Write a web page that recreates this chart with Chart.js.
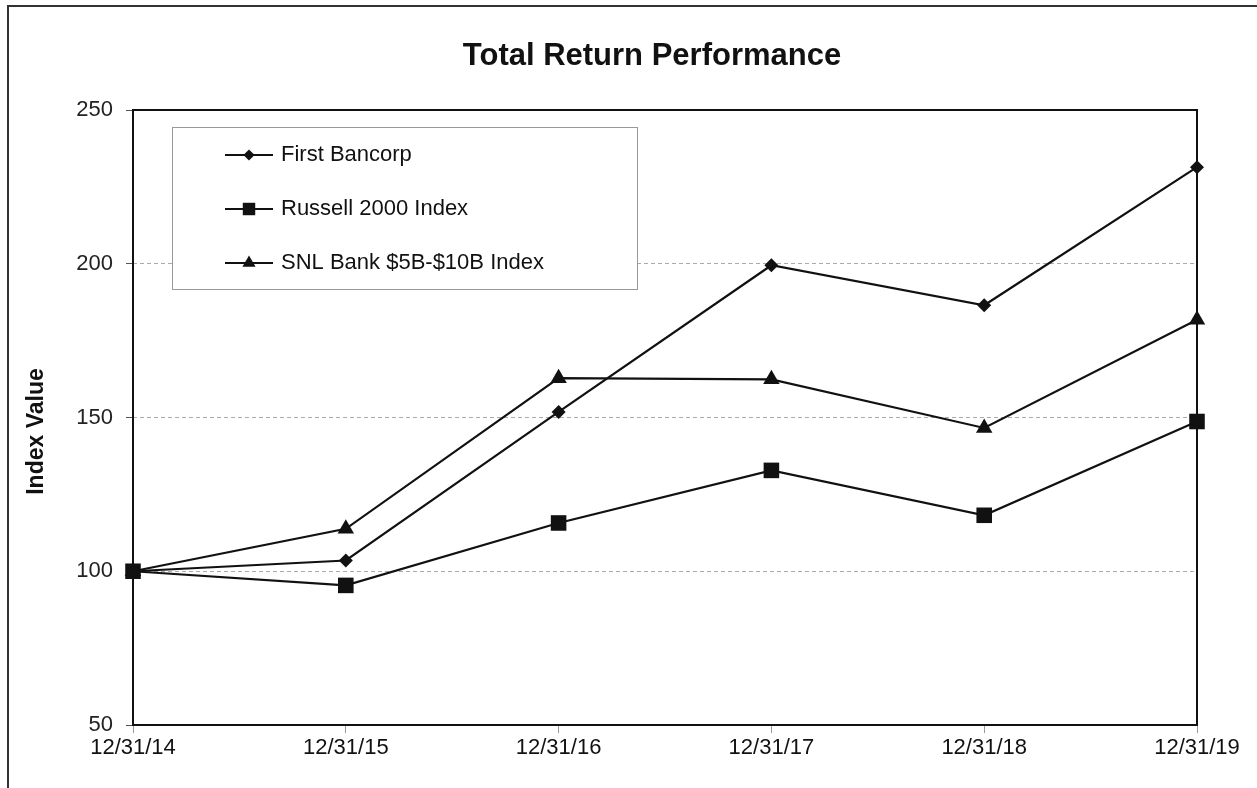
<!DOCTYPE html>
<html lang="en">
<head>
  <meta charset="UTF-8" />
  <title>Total Return Performance</title>
  <script src="https://cdn.jsdelivr.net/npm/chart.js"></script>
  <style>
    body {
      margin: 0;
      background: #ffffff;
    }
    .frame {
      position: absolute;
      left: 7px;
      top: 5px;
      width: 1250px;
      height: 783px;
      border-left: 2px solid #333;
      border-top: 2px solid #333;
      box-sizing: border-box;
    }
    canvas {
      position: absolute;
      left: 0;
      top: 0;
    }
  </style>
</head>
<body>
  <div class="frame"></div>
  <canvas id="perfChart" width="1257" height="788"></canvas>

  <script>
    const dates = ['12/31/14', '12/31/15', '12/31/16', '12/31/17', '12/31/18', '12/31/19'];
    const firstBancorp = [100, 103.5, 151.8, 199.5, 186.5, 231.4];
    const russell2000 = [100, 95.4, 115.7, 132.8, 118.2, 148.7];
    const snlBank = [100, 113.8, 162.8, 162.4, 146.6, 181.8];
    const yTicks = [50, 100, 150, 200, 250];

    const FONT = "'Liberation Sans', Arial, sans-serif";

    // title, plot frame, y title and boxed legend
    const extras = {
      id: 'extras',
      afterDraw(chart) {
        const ctx = chart.ctx;
        const a = chart.chartArea;
        ctx.save();
        ctx.strokeStyle = '#111';
        ctx.lineWidth = 2;
        ctx.strokeRect(a.left, a.top, a.right - a.left, a.bottom - a.top);

        ctx.fillStyle = '#111';
        ctx.font = 'bold 31px ' + FONT;
        ctx.textAlign = 'center';
        ctx.textBaseline = 'middle';
        ctx.fillText('Total Return Performance', 652, 56);

        // y axis title
        ctx.save();
        ctx.translate(37, (a.top + a.bottom) / 2 + 14);
        ctx.rotate(-Math.PI / 2);
        ctx.font = 'bold 23px ' + FONT;
        ctx.fillText('Index Value', 0, 0);
        ctx.restore();

        // legend box
        const bx = a.left + 39, by = a.top + 17, bw = 465, bh = 162;
        ctx.fillStyle = '#fff';
        ctx.fillRect(bx, by, bw, bh);
        ctx.strokeStyle = '#999';
        ctx.lineWidth = 1;
        ctx.strokeRect(bx + 0.5, by + 0.5, bw, bh);

        chart.data.datasets.forEach((ds, i) => {
          const cy = by + 28 + i * 54;
          const x1 = bx + 53, x2 = bx + 101;
          ctx.strokeStyle = '#111';
          ctx.lineWidth = 2;
          ctx.beginPath();
          ctx.moveTo(x1, cy);
          ctx.lineTo(x2, cy);
          ctx.stroke();
          ctx.fillStyle = '#111';
          Chart.helpers.drawPoint(ctx, {
            pointStyle: ds.pointStyle,
            radius: ds.pointRadius * 0.8,
            rotation: 0,
            borderWidth: 0
          }, (x1 + x2) / 2, cy);
          ctx.font = '22px ' + FONT;
          ctx.textBaseline = 'middle';
          ctx.textAlign = 'left';
          ctx.fillText(ds.label, x2 + 8, cy);
        });
        ctx.restore();
      }
    };

    function series(label, data, style, radius) {
      return {
        label,
        data,
        borderColor: '#111',
        backgroundColor: '#111',
        borderWidth: 2.2,
        pointStyle: style,
        pointRadius: radius,
        pointBorderWidth: 0,
        pointBackgroundColor: '#111',
        tension: 0
      };
    }

    new Chart(document.getElementById('perfChart'), {
      type: 'line',
      data: {
        labels: dates,
        datasets: [
          series('First Bancorp', firstBancorp, 'rectRot', 7),
          series('Russell 2000 Index', russell2000, 'rect', 11),
          series('SNL Bank $5B-$10B Index', snlBank, 'triangle', 9.5)
        ]
      },
      options: {
        responsive: false,
        animation: false,
        clip: false,
        layout: { padding: { left: 0, right: 60, top: 110, bottom: 0 } },
        plugins: {
          legend: { display: false },
          tooltip: { enabled: false },
          title: { display: false }
        },
        scales: {
          x: {
            offset: false,
            grid: {
              drawOnChartArea: false,
              drawTicks: true,
              tickLength: 8,
              tickColor: '#999'
            },
            border: { display: false },
            ticks: {
              color: '#111',
              font: { family: FONT, size: 22 },
              maxRotation: 0,
              padding: 2
            },
            afterFit: s => { s.height = 63; }
          },
          y: {
            min: 50,
            max: 250,
            afterBuildTicks: s => { s.ticks = yTicks.map(v => ({ value: v })); },
            grid: {
              color: '#aaa',
              lineWidth: 1,
              tickLength: 7,
              tickColor: '#555',
              drawTicks: true
            },
            border: { display: false, dash: [4, 3] },
            ticks: {
              color: '#222',
              font: { family: FONT, size: 22 },
              padding: 13
            },
            afterFit: s => { s.width = 133; }
          }
        }
      },
      plugins: [extras]
    });
  </script>
</body>
</html>
